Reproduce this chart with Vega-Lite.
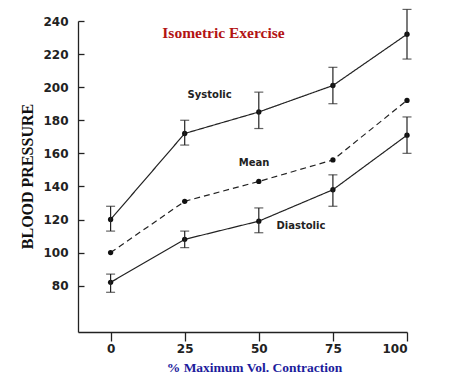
{
  "$schema": "https://vega.github.io/schema/vega-lite/v6.json",
  "autosize": "none",
  "width": 329,
  "height": 311,
  "padding": {"left": 78, "top": 21, "right": 67, "bottom": 41},
  "background": "white",
  "title": {
    "text": "Isometric Exercise",
    "font": "Liberation Serif",
    "fontSize": 15.5,
    "fontWeight": "bold",
    "color": "#b31414",
    "anchor": "middle",
    "frame": "group",
    "dx": -19,
    "baseline": "middle",
    "offset": -40
  },
  "datasets": {
    "bp": [
      {"pct": 0, "series": "Systolic", "bp": 120, "lo": 113, "hi": 128},
      {"pct": 25, "series": "Systolic", "bp": 172, "lo": 165, "hi": 180},
      {"pct": 50, "series": "Systolic", "bp": 185, "lo": 175, "hi": 197},
      {"pct": 75, "series": "Systolic", "bp": 201, "lo": 190, "hi": 212},
      {"pct": 100, "series": "Systolic", "bp": 232, "lo": 217, "hi": 247},
      {"pct": 0, "series": "Mean", "bp": 100},
      {"pct": 25, "series": "Mean", "bp": 131},
      {"pct": 50, "series": "Mean", "bp": 143},
      {"pct": 75, "series": "Mean", "bp": 156},
      {"pct": 100, "series": "Mean", "bp": 192},
      {"pct": 0, "series": "Diastolic", "bp": 82, "lo": 76, "hi": 87},
      {"pct": 25, "series": "Diastolic", "bp": 108, "lo": 103, "hi": 113},
      {"pct": 50, "series": "Diastolic", "bp": 119, "lo": 112, "hi": 127},
      {"pct": 75, "series": "Diastolic", "bp": 138, "lo": 128, "hi": 147},
      {"pct": 100, "series": "Diastolic", "bp": 171, "lo": 160, "hi": 182}
    ],
    "labels": [
      {"pct": 33.4, "bp": 195, "label": "Systolic"},
      {"pct": 48.4, "bp": 154, "label": "Mean"},
      {"pct": 64.2, "bp": 116, "label": "Diastolic"}
    ]
  },
  "encoding": {
    "x": {
      "field": "pct",
      "type": "quantitative",
      "scale": {"domain": [-11, 100], "nice": false, "zero": false},
      "axis": {
        "values": [0, 25, 50, 75, 100],
        "grid": false,
        "title": "% Maximum Vol. Contraction",
        "titleFont": "Liberation Serif",
        "titleFontSize": 13.5,
        "titleFontWeight": "bold",
        "titleColor": "#1c1c9c",
        "titleX": 176,
        "titleY": 35,
        "titleBaseline": "middle",
        "labelFont": "DejaVu Sans",
        "labelFontSize": 12,
        "labelFontWeight": "bold",
        "labelColor": "#222222",
        "tickSize": 9,
        "labelPadding": 2,
        "domainColor": "#222222",
        "tickColor": "#222222",
        "domainWidth": 1.3,
        "tickWidth": 1.3
      }
    },
    "y": {
      "field": "bp",
      "type": "quantitative",
      "scale": {"domain": [52, 240], "nice": false, "zero": false},
      "axis": {
        "values": [80, 100, 120, 140, 160, 180, 200, 220, 240],
        "grid": false,
        "title": "BLOOD PRESSURE",
        "titleFont": "Liberation Serif",
        "titleFontSize": 16,
        "titleFontWeight": "bold",
        "titleColor": "#111111",
        "titleX": -51,
        "titleY": 155,
        "titleBaseline": "middle",
        "titleAlign": "center",
        "titleAngle": -90,
        "labelFont": "DejaVu Sans",
        "labelFontSize": 12,
        "labelFontWeight": "bold",
        "labelColor": "#222222",
        "tickSize": -6,
        "labelPadding": 16,
        "domainColor": "#222222",
        "tickColor": "#222222",
        "domainWidth": 1.3,
        "tickWidth": 1.3
      }
    }
  },
  "layer": [
    {
      "data": {"name": "bp"},
      "mark": {"type": "line", "color": "#222222", "strokeWidth": 1.2},
      "encoding": {
        "detail": {"field": "series"},
        "strokeDash": {
          "field": "series",
          "type": "nominal",
          "scale": {"domain": ["Systolic", "Mean", "Diastolic"], "range": [[1, 0], [6, 4], [1, 0]]},
          "legend": null
        }
      }
    },
    {
      "data": {"name": "bp"},
      "mark": {"type": "point", "filled": true, "color": "#111111", "size": 28, "opacity": 1}
    },
    {
      "data": {"name": "bp"},
      "transform": [{"filter": "isValid(datum.lo)"}],
      "mark": {"type": "errorbar", "color": "#222222", "ticks": {"size": 9, "thickness": 1.2}, "thickness": 1.2},
      "encoding": {
        "y": {"field": "lo", "type": "quantitative"},
        "y2": {"field": "hi"}
      }
    },
    {
      "data": {"name": "labels"},
      "mark": {"type": "text", "font": "DejaVu Sans", "fontSize": 10, "fontWeight": "bold", "color": "#222222"},
      "encoding": {"text": {"field": "label"}}
    }
  ],
  "config": {"view": {"stroke": null}}
}
